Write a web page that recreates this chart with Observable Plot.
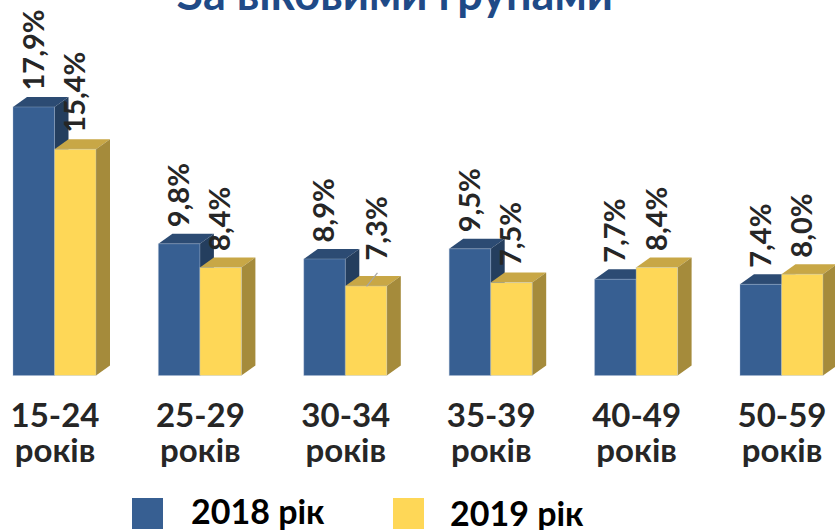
<!DOCTYPE html>
<html>
<head>
<meta charset="utf-8">
<script src="https://cdn.jsdelivr.net/npm/d3@7"></script>
<script src="https://cdn.jsdelivr.net/npm/@observablehq/plot@0.6"></script>
<style>
  html, body { margin: 0; padding: 0; background: #fff; }
  #wrap { position: relative; width: 835px; height: 530px; overflow: hidden; font-family: Lato, "Open Sans", sans-serif; }
  #title { position: absolute; left: 0; width: 790px; text-align: center; top: -34px; font-size: 45px; font-weight: 700; color: #1F4A87; line-height: 54px; white-space: nowrap; }
  #chart { position: absolute; left: 0; top: 0; }
  .leg { position: absolute; font-size: 34px; font-weight: 700; color: #000; line-height: 34px; }
  .sw { position: absolute; width: 31px; height: 31px; }
</style>
</head>
<body>
<div id="wrap">
  <div id="chart"></div>
  <div id="title">За віковими групами</div>
  <div class="sw" style="left:132px; top:498px; background:#375F92"></div>
  <div class="leg" id="l2018" style="left:191px; top:494px"></div>
  <div class="sw" style="left:393px; top:498px; background:#FED757"></div>
  <div class="leg" id="l2019" style="left:450px; top:496px"></div>
</div>
<script>
// ---- data ----
const categories = ["15-24 років", "25-29 років", "30-34 років", "35-39 років", "40-49 років", "50-59 років"];
const series = ["2018 рік", "2019 рік"];
const values2018 = [17.9, 9.8, 8.9, 9.5, 7.7, 7.4];
const values2019 = [15.4, 8.4, 7.3, 7.5, 8.4, 8.0];

document.getElementById("l2018").textContent = series[0];
document.getElementById("l2019").textContent = series[1];

// ---- style ----
const baseValue = 2;          // value axis floor
const barW = 0.2854;           // front face width (category units)
const depthX = 0.0963;         // 3D depth, category units
const depthY = 0.592;          // 3D depth, value units
const colors = {
  "2018 рік": {front: "#375F92", top: "#2C4B73", side: "#243E5E"},
  "2019 рік": {front: "#FED757", top: "#C8A746", side: "#A58B3B"}
};

const rows = [];
categories.forEach((c, i) => {
  rows.push({cat: c, i, s: series[0], v: values2018[i], x1: i - barW, x2: i});
  rows.push({cat: c, i, s: series[1], v: values2019[i], x1: i, x2: i + barW});
});

// polygons for side and top faces (as areas)
const faces = [];
rows.forEach((r, k) => {
  const b = baseValue, t = r.v, d = depthY;
  faces.push({id: "s" + k, s: r.s, face: "side", x: r.x2, y1: b, y2: t});
  faces.push({id: "s" + k, s: r.s, face: "side", x: r.x2 + depthX, y1: b + d, y2: t + d});
  faces.push({id: "t" + k, s: r.s, face: "top", x: r.x1, y1: t, y2: t});
  faces.push({id: "t" + k, s: r.s, face: "top", x: r.x1 + depthX, y1: t, y2: t + d});
  faces.push({id: "t" + k, s: r.s, face: "top", x: r.x2, y1: t, y2: t + d});
  faces.push({id: "t" + k, s: r.s, face: "top", x: r.x2 + depthX, y1: t + d, y2: t + d});
});

const marks = [];
series.forEach(sn => {
  marks.push(Plot.areaY(faces.filter(f => f.s === sn && f.face === "top"), {x: "x", y1: "y1", y2: "y2", z: "id", fill: colors[sn].top, curve: "linear"}));
  marks.push(Plot.areaY(faces.filter(f => f.s === sn && f.face === "side"), {x: "x", y1: "y1", y2: "y2", z: "id", fill: colors[sn].side, curve: "linear"}));
  marks.push(Plot.rectY(rows.filter(r => r.s === sn), {x1: "x1", x2: "x2", y1: () => baseValue, y2: "v", fill: colors[sn].front, stroke: "#A9BBD3", strokeOpacity: 0.35, strokeWidth: 1}));
});

// value labels
const fmt = v => v.toFixed(1).replace(".", ",") + "%";
const isMoved = r => r.cat === categories[2] && r.s === series[1];
const labelStyle = {rotate: -90, textAnchor: "start", lineAnchor: "middle", fontSize: 29, fontWeight: 700, fill: "#262626", fontFamily: "Lato"};
marks.push(Plot.text(rows.filter(r => !isMoved(r)), {
  x: r => (r.x1 + r.x2) / 2, y: "v", text: r => fmt(r.v), dy: -17, ...labelStyle
}));
marks.push(Plot.link(rows.filter(isMoved), {
  x1: r => (r.x1 + r.x2) / 2, y1: "v",
  x2: r => (r.x1 + r.x2) / 2 + 0.075, y2: r => r.v + 0.8,
  stroke: "#A6A6A6", strokeWidth: 1.2
}));
marks.push(Plot.text(rows.filter(isMoved), {
  x: r => (r.x1 + r.x2) / 2, y: "v", text: r => fmt(r.v), dx: 11, dy: -26, ...labelStyle
}));

// category axis
marks.push(Plot.axisX(d3.range(categories.length), {
  tickFormat: i => categories[i].replace(" ", "\n"),
  tickSize: 0, tickPadding: 27, fontSize: 33, fontWeight: 700,
  fill: "#262626", lineHeight: 1.04, fontFamily: "Lato", label: null
}));

const chart = Plot.plot({
  width: 835,
  height: 480,
  marginLeft: 54.5,
  marginRight: 53.5,
  marginTop: 71.5,
  marginBottom: 104.5,
  style: {fontFamily: "Lato", overflow: "visible", background: "transparent"},
  x: {type: "linear", domain: [0, categories.length - 1], axis: null},
  y: {domain: [baseValue, 20], axis: null},
  marks
});
document.getElementById("chart").appendChild(chart);
</script>
</body>
</html>
